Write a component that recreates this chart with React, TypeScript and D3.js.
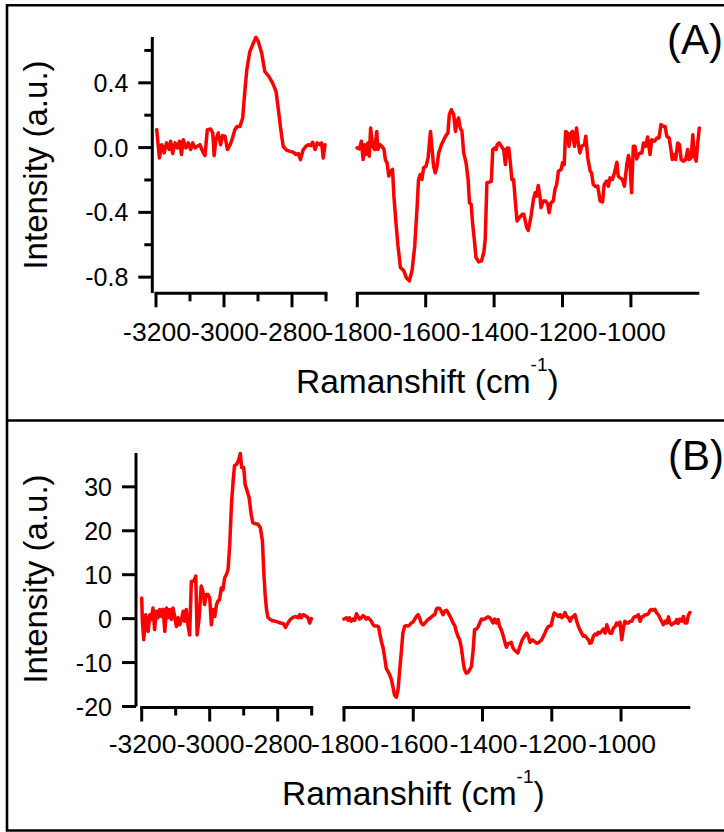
import React from "react";
import * as d3 from "d3";

type P = [number, number];

// ---------- Panel A data (Raman shift cm^-1, intensity a.u.) ----------
const aLeft: P[] = [
  [-3198, 0.111], [-3190, -0.064], [-3183, 0.018], [-3176, -0.033], [-3169, 0.029], [-3161, -0.012],
  [-3157, 0.039], [-3151, -0.037], [-3144, 0.029], [-3137, -0.002], [-3131, 0.039], [-3125, -0.043],
  [-3120, 0.049], [-3112, -0.002], [-3105, 0.029], [-3098, -0.012], [-3092, 0.029], [-3085, -0.002],
  [-3078, 0.008], [-3071, 0.018], [-3063, -0.023], [-3056, -0.049], [-3049, 0.111], [-3039, 0.115],
  [-3033, 0.09], [-3029, -0.049], [-3024, 0.049], [-3017, 0.09], [-3010, 0.018], [-3004, 0.074],
  [-2997, 0.07], [-2990, -0.012], [-2982, 0.018], [-2975, 0.059], [-2968, 0.111], [-2961, 0.131],
  [-2953, 0.131], [-2945, 0.183], [-2940, 0.316], [-2933, 0.48], [-2924, 0.593], [-2914, 0.644],
  [-2906, 0.681], [-2899, 0.654], [-2889, 0.583], [-2880, 0.47], [-2868, 0.439], [-2857, 0.398],
  [-2847, 0.347], [-2840, 0.234], [-2833, 0.111], [-2826, 0.008], [-2816, -0.016], [-2806, -0.023],
  [-2796, -0.029], [-2788, -0.043], [-2781, -0.037], [-2775, -0.074], [-2767, -0.012], [-2759, 0.008],
  [-2752, 0.018], [-2745, 0.012], [-2739, 0.033], [-2732, -0.012], [-2726, 0.029], [-2718, 0.018],
  [-2713, 0.029], [-2708, -0.064], [-2703, 0.018],
];

const aRight: P[] = [
  [-1801, -0.002], [-1794, -0.008], [-1788, 0.039], [-1783, -0.074], [-1779, 0.018], [-1775, -0.043],
  [-1769, 0.029], [-1765, -0.053], [-1761, 0.121], [-1755, 0.008], [-1749, -0.012], [-1743, 0.1],
  [-1740, -0.012], [-1734, 0.018], [-1728, 0.008], [-1722, -0.012], [-1718, -0.074], [-1713, -0.094],
  [-1708, -0.176], [-1703, -0.146], [-1697, -0.135], [-1693, -0.3], [-1687, -0.464], [-1681, -0.607],
  [-1674, -0.74], [-1664, -0.761], [-1657, -0.802], [-1648, -0.823], [-1640, -0.761], [-1632, -0.607],
  [-1625, -0.361], [-1621, -0.197], [-1616, -0.166], [-1611, -0.197], [-1606, -0.125], [-1599, -0.115],
  [-1593, -0.064], [-1586, 0.1], [-1582, 0.008], [-1577, -0.115], [-1572, -0.156], [-1567, -0.115],
  [-1562, -0.033], [-1554, 0.018], [-1547, 0.049], [-1541, 0.074], [-1535, 0.09], [-1531, 0.203],
  [-1525, 0.234], [-1518, 0.203], [-1513, 0.1], [-1508, 0.162], [-1504, 0.183], [-1499, 0.121],
  [-1494, 0.1], [-1489, -0.033], [-1482, -0.094], [-1476, -0.197], [-1472, -0.341], [-1467, -0.351],
  [-1463, -0.464], [-1457, -0.587], [-1453, -0.679], [-1445, -0.706], [-1437, -0.7], [-1430, -0.648],
  [-1426, -0.566], [-1421, -0.217], [-1414, -0.213], [-1408, -0.207], [-1404, -0.012], [-1398, -0.002],
  [-1394, -0.012], [-1391, 0.018], [-1385, 0.029], [-1379, 0.008], [-1372, -0.012], [-1367, -0.105],
  [-1362, -0.002], [-1357, -0.002], [-1352, -0.105], [-1348, -0.197], [-1343, -0.197], [-1338, -0.33],
  [-1333, -0.453], [-1326, -0.433], [-1318, -0.412], [-1313, -0.412], [-1305, -0.49], [-1300, -0.512],
  [-1292, -0.423], [-1285, -0.32], [-1280, -0.279], [-1276, -0.3], [-1271, -0.234], [-1266, -0.3],
  [-1263, -0.371], [-1256, -0.33], [-1249, -0.33], [-1243, -0.351], [-1239, -0.402], [-1234, -0.341],
  [-1227, -0.33], [-1222, -0.258], [-1217, -0.228], [-1212, -0.146], [-1204, -0.135], [-1200, -0.094],
  [-1195, -0.105], [-1191, 0.1], [-1185, 0.09], [-1181, 0.008], [-1175, 0.09], [-1171, 0.1],
  [-1165, 0.008], [-1159, 0.121], [-1154, 0.029], [-1149, -0.033], [-1144, 0.008], [-1136, 0.018],
  [-1132, 0.07], [-1126, -0.064], [-1119, -0.146], [-1115, -0.156], [-1110, -0.228], [-1103, -0.242],
  [-1097, -0.238], [-1090, -0.33], [-1083, -0.336], [-1078, -0.228], [-1071, -0.207], [-1066, -0.238],
  [-1061, -0.187], [-1054, -0.197], [-1048, -0.156], [-1041, -0.09], [-1037, -0.176], [-1032, -0.187],
  [-1025, -0.197], [-1019, -0.238], [-1012, -0.105], [-1007, -0.049], [-1003, -0.094], [-998, -0.279],
  [-993, 0.008], [-988, 0.008], [-983, -0.07], [-978, -0.043], [-973, -0.033], [-968, -0.033],
  [-963, 0.029], [-957, 0.008], [-951, 0.066], [-944, -0.043], [-939, 0.049], [-931, 0.039],
  [-924, 0.059], [-918, 0.059], [-912, 0.142], [-905, 0.131], [-900, 0.131], [-895, 0.07],
  [-888, 0.059], [-883, -0.012], [-879, -0.074], [-873, -0.043], [-869, -0.074], [-863, 0.029],
  [-858, 0.018], [-853, -0.074], [-846, -0.084], [-840, -0.074], [-834, -0.012], [-830, -0.074],
  [-824, -0.064], [-819, 0.08], [-814, -0.053], [-809, -0.084], [-805, 0.018], [-800, 0.121],
];

// ---------- Panel B data ----------
const bLeft: P[] = [
  [-3200, 4.7], [-3198, -0.6], [-3194, -4.8], [-3188, 0.9], [-3184, -1.4], [-3181, -2.9], [-3176, 0.9],
  [-3172, -0.2], [-3167, 2.4], [-3162, -2.5], [-3157, 1.7], [-3152, 0.2], [-3147, 2.1], [-3142, 0.5],
  [-3137, 2.1], [-3132, -2.9], [-3127, 2.4], [-3123, 0.2], [-3118, 2.1], [-3113, -0.2], [-3108, 2.4],
  [-3103, 0.5], [-3098, -1.8], [-3093, 0.2], [-3088, -1.4], [-3083, -0.2], [-3078, 1.7], [-3074, -0.6],
  [-3069, 2.1], [-3064, -1.4], [-3059, -3.7], [-3054, 8.5], [-3047, 8.5], [-3041, 9.7], [-3037, -3.7],
  [-3031, 0.2], [-3025, 7.4], [-3020, 6.2], [-3015, 3.2], [-3010, 5.5], [-3005, 5.5], [-3000, 4.7],
  [-2995, -1.4], [-2990, 2.1], [-2985, 0.5], [-2980, 3.2], [-2976, 4.0], [-2971, 4.3], [-2966, 7.0],
  [-2961, 6.6], [-2956, 9.3], [-2951, 10.0], [-2946, 11.2], [-2941, 16.9], [-2936, 26.0], [-2931, 31.4],
  [-2927, 34.8], [-2920, 35.2], [-2914, 36.3], [-2910, 37.6], [-2906, 34.4], [-2900, 34.4], [-2896, 30.6],
  [-2890, 29.1], [-2884, 27.5], [-2878, 23.7], [-2873, 21.8], [-2865, 21.6], [-2858, 21.5], [-2851, 20.7],
  [-2845, 17.7], [-2841, 10.8], [-2837, 5.5], [-2833, 2.1], [-2829, 0.3], [-2822, -0.2], [-2814, -0.5],
  [-2806, -0.6], [-2799, -0.8], [-2792, -1.0], [-2784, -1.1], [-2777, -2.0], [-2770, -1.0], [-2763, -0.2],
  [-2755, 0.3], [-2747, 0.5], [-2740, 0.2], [-2735, 0.9], [-2731, 0.2], [-2724, 0.9], [-2716, 0.5],
  [-2711, 0.2], [-2706, -1.0], [-2701, 0.0],
];

const bRight: P[] = [
  [-1800, -0.1], [-1793, 0.2], [-1788, -0.4], [-1784, 0.2], [-1779, -0.6], [-1774, -0.1], [-1769, -0.4],
  [-1764, 1.1], [-1760, 0.5], [-1755, -0.1], [-1750, 0.2], [-1745, 0.7], [-1740, 0.4], [-1736, -0.1],
  [-1731, 0.2], [-1726, -0.1], [-1721, -0.6], [-1716, -1.4], [-1711, -1.7], [-1704, -1.7], [-1700, -1.9],
  [-1697, -3.3], [-1692, -5.2], [-1687, -6.7], [-1683, -8.6], [-1678, -11.3], [-1673, -12.0], [-1668, -12.8],
  [-1663, -13.9], [-1659, -15.4], [-1654, -17.4], [-1649, -17.9], [-1644, -16.2], [-1639, -11.6], [-1634, -7.1],
  [-1630, -3.3], [-1625, -1.7], [-1620, -1.6], [-1615, -1.7], [-1610, -1.4], [-1606, -1.0], [-1601, -0.8],
  [-1596, -0.2], [-1591, 0.5], [-1586, 0.9], [-1582, 0.2], [-1577, -1.0], [-1572, -1.4], [-1567, -1.1],
  [-1562, -0.6], [-1557, -0.2], [-1550, 0.2], [-1543, 0.7], [-1538, 0.9], [-1533, 2.2], [-1529, 2.4],
  [-1524, 2.3], [-1519, 1.7], [-1514, 0.9], [-1509, 1.7], [-1504, 1.9], [-1500, 1.4], [-1495, 0.7],
  [-1490, -0.1], [-1485, -1.0], [-1480, -1.6], [-1476, -2.9], [-1471, -4.0], [-1466, -4.8], [-1461, -6.7],
  [-1456, -9.7], [-1452, -11.6], [-1447, -12.4], [-1442, -12.3], [-1437, -11.6], [-1432, -10.9], [-1427, -7.1],
  [-1423, -2.5], [-1418, -2.4], [-1413, -1.9], [-1408, -1.0], [-1403, -0.1], [-1399, -0.2], [-1394, -0.1],
  [-1389, 0.2], [-1384, 0.4], [-1379, 0.2], [-1375, -0.2], [-1370, -1.0], [-1365, -0.1], [-1360, -1.0],
  [-1355, -0.2], [-1351, -1.7], [-1346, -2.5], [-1341, -3.7], [-1336, -5.2], [-1331, -6.5], [-1326, -5.7],
  [-1322, -5.6], [-1317, -5.4], [-1312, -6.7], [-1307, -7.2], [-1298, -7.8], [-1292, -6.3], [-1285, -4.8],
  [-1279, -4.0], [-1273, -3.3], [-1268, -4.0], [-1263, -5.4], [-1256, -4.8], [-1250, -5.2], [-1244, -5.6],
  [-1237, -5.4], [-1229, -4.8], [-1222, -3.7], [-1215, -2.4], [-1210, -1.8], [-1202, -1.6], [-1198, -0.2],
  [-1193, 1.3], [-1186, 0.9], [-1181, 0.5], [-1176, 0.9], [-1171, 0.2], [-1167, 0.5], [-1162, 1.4],
  [-1157, 0.5], [-1152, 0.2], [-1147, -0.6], [-1143, 0.2], [-1138, 0.5], [-1133, 0.9], [-1128, -0.6],
  [-1123, -1.8], [-1119, -2.5], [-1114, -3.3], [-1109, -4.0], [-1104, -3.9], [-1099, -4.4], [-1094, -4.8],
  [-1090, -5.6], [-1085, -5.4], [-1080, -4.0], [-1075, -3.5], [-1070, -3.7], [-1066, -3.1], [-1061, -3.3],
  [-1056, -2.9], [-1051, -2.4], [-1046, -3.3], [-1041, -1.4], [-1037, -2.4], [-1032, -3.3], [-1027, -3.3],
  [-1022, -2.1], [-1017, -1.8], [-1013, -1.0], [-1008, -1.4], [-1003, -0.8], [-998, -4.8], [-993, -2.1],
  [-989, -0.6], [-984, -1.0], [-979, -1.0], [-974, -0.6], [-969, -0.6], [-964, 0.2], [-960, 0.5],
  [-955, 0.5], [-950, 0.9], [-945, -0.6], [-940, 0.4], [-936, 0.5], [-931, 0.9], [-926, 0.9],
  [-921, 1.1], [-916, 1.9], [-912, 2.1], [-907, 1.9], [-902, 2.1], [-897, 1.3], [-892, 0.9],
  [-888, 0.2], [-883, -0.6], [-878, -1.4], [-873, -0.6], [-868, -1.0], [-863, 0.4], [-859, -1.0],
  [-854, -1.4], [-849, -1.0], [-844, -1.0], [-839, -0.2], [-835, -1.1], [-830, -0.1], [-825, -0.6],
  [-820, 0.5], [-815, -1.0], [-810, -1.0], [-806, 0.7], [-801, 1.4],
];

// ---------- Axis ticks ----------
const xLeftDomain: P = [-3200, -2700];
const xRightDomain: P = [-1800, -800];
const xMajorLeft = [-3200, -3000, -2800];
const xMinorLeft = [-3100, -2900, -2700];
const xMajorRight = [-1800, -1600, -1400, -1200, -1000];
const xLabelsLeft = ["-3200", "-3000", "-2800"];
const xLabelsRight = ["-1800", "-1600", "-1400", "-1200", "-1000"];

const aYMajor = [-0.8, -0.4, 0, 0.4];
const aYLabels = ["-0.8", "-0.4", "0.0", "0.4"];
const aYMinor = [-0.6, -0.2, 0.2, 0.6];
const aYDomain: P = [-0.898, 0.683];

const bYMajor = [-20, -10, 0, 10, 20, 30];
const bYLabels = ["-20", "-10", "0", "10", "20", "30"];
const bYMinor: number[] = [];
const bYDomain: P = [-20, 37.7];

const FONT = "'Liberation Sans', Arial, Helvetica, sans-serif";
const RED = "#ff0000";

interface PanelProps {
  left: P[];
  right: P[];
  xLeftRange: P;
  xRightRange: P;
  yDomain: P;
  yRange: P;
  yAxisX: number;
  xAxisY: number;
  yMajor: number[];
  yLabels: string[];
  yMinor: number[];
  labelBaseline: number;
  titleBaseline: number;
  titleX: number;
  yTitleCY: number;
  tag: string;
  tagX: number;
  tagBaseline: number;
}

function Panel(p: PanelProps) {
  const xl = d3.scaleLinear().domain(xLeftDomain).range(p.xLeftRange);
  const xr = d3.scaleLinear().domain(xRightDomain).range(p.xRightRange);
  const y = d3.scaleLinear().domain(p.yDomain).range(p.yRange);
  const lineL = d3.line<P>().x((d) => xl(d[0])).y((d) => y(d[1]));
  const lineR = d3.line<P>().x((d) => xr(d[0])).y((d) => y(d[1]));
  const MAJ = 14;
  const MIN = 8;
  const SW = 3;
  return (
    <g>
      {/* data */}
      <path d={lineL(p.left) || ""} fill="none" stroke={RED} strokeWidth={3.5} strokeLinejoin="round" strokeLinecap="round" />
      <path d={lineR(p.right) || ""} fill="none" stroke={RED} strokeWidth={3.5} strokeLinejoin="round" strokeLinecap="round" />

      {/* y axis */}
      <line x1={p.yAxisX} x2={p.yAxisX} y1={p.yRange[1]} y2={p.yRange[0]} stroke="#000" strokeWidth={SW} />
      {p.yMajor.map((v, i) => (
        <g key={"ym" + i}>
          <line x1={p.yAxisX - MAJ} x2={p.yAxisX} y1={y(v)} y2={y(v)} stroke="#000" strokeWidth={SW} />
          <text x={p.yAxisX - 24} y={y(v) + 9} textAnchor="end" fontSize={25} fontFamily={FONT} fill="#000">
            {p.yLabels[i]}
          </text>
        </g>
      ))}
      {p.yMinor.map((v, i) => (
        <line key={"yn" + i} x1={p.yAxisX - MIN} x2={p.yAxisX} y1={y(v)} y2={y(v)} stroke="#000" strokeWidth={SW} />
      ))}

      {/* x axis, left segment */}
      <line x1={p.xLeftRange[0] - 1.5} x2={p.xLeftRange[1] + 1.5} y1={p.xAxisY} y2={p.xAxisY} stroke="#000" strokeWidth={SW} />
      {xMajorLeft.map((v, i) => (
        <g key={"xl" + i}>
          <line x1={xl(v)} x2={xl(v)} y1={p.xAxisY} y2={p.xAxisY + MAJ} stroke="#000" strokeWidth={SW} />
          <text x={xl(v) + 1} y={p.labelBaseline} textAnchor="middle" fontSize={26.5} fontFamily={FONT} fill="#000">
            {xLabelsLeft[i]}
          </text>
        </g>
      ))}
      {xMinorLeft.map((v, i) => (
        <line key={"xln" + i} x1={xl(v)} x2={xl(v)} y1={p.xAxisY} y2={p.xAxisY + MIN} stroke="#000" strokeWidth={SW} />
      ))}

      {/* x axis, right segment */}
      <line x1={p.xRightRange[0] - 1.5} x2={p.xRightRange[1]} y1={p.xAxisY} y2={p.xAxisY} stroke="#000" strokeWidth={SW} />
      {xMajorRight.map((v, i) => (
        <g key={"xr" + i}>
          <line x1={xr(v)} x2={xr(v)} y1={p.xAxisY} y2={p.xAxisY + MAJ} stroke="#000" strokeWidth={SW} />
          <text x={xr(v) + 1} y={p.labelBaseline} textAnchor="middle" fontSize={26.5} fontFamily={FONT} fill="#000">
            {xLabelsRight[i]}
          </text>
        </g>
      ))}

      {/* axis titles */}
      <text x={p.titleX} y={p.titleBaseline} fontSize={33.5} fontFamily={FONT} fill="#000">
        Ramanshift (cm
        <tspan fontSize={19} dy={-22}>-1</tspan>
        <tspan fontSize={33.5} dy={22}>)</tspan>
      </text>
      <text
        transform={`translate(46.5, ${p.yTitleCY}) rotate(-90)`}
        textAnchor="middle"
        fontSize={33}
        fontFamily={FONT}
        fill="#000"
      >
        Intensity (a.u.)
      </text>

      {/* panel tag */}
      <text x={p.tagX} y={p.tagBaseline} fontSize={42} fontFamily={FONT} fill="#000">
        {p.tag}
      </text>
    </g>
  );
}

export default function App() {
  return (
    <svg
      width={724}
      height={832}
      viewBox="0 0 724 832"
      style={{ position: "absolute", left: 0, top: 0, background: "#fff" }}
    >
      <rect x={0} y={0} width={724} height={832} fill="#fff" />
      {/* frame */}
      <path d="M730,5.3 H7 V830.5 H730" fill="none" stroke="#000" strokeWidth={2.6} />
      <line x1={7} x2={730} y1={420.5} y2={420.5} stroke="#000" strokeWidth={2.6} />

      <Panel
        left={aLeft}
        right={aRight}
        xLeftRange={[156, 326]}
        xRightRange={[357.3, 699.3]}
        yDomain={aYDomain}
        yRange={[293, 37]}
        yAxisX={152.3}
        xAxisY={293.3}
        yMajor={aYMajor}
        yLabels={aYLabels}
        yMinor={aYMinor}
        labelBaseline={340.7}
        titleBaseline={392.7}
        titleX={296}
        yTitleCY={165}
        tag="(A)"
        tagX={667}
        tagBaseline={53.5}
      />
      <Panel
        left={bLeft}
        right={bRight}
        xLeftRange={[141.7, 311.7]}
        xRightRange={[344, 690.3]}
        yDomain={bYDomain}
        yRange={[706.5, 453]}
        yAxisX={136}
        xAxisY={707.5}
        yMajor={bYMajor}
        yLabels={bYLabels}
        yMinor={bYMinor}
        labelBaseline={753}
        titleBaseline={805}
        titleX={282}
        yTitleCY={579}
        tag="(B)"
        tagX={668}
        tagBaseline={470}
      />
    </svg>
  );
}
